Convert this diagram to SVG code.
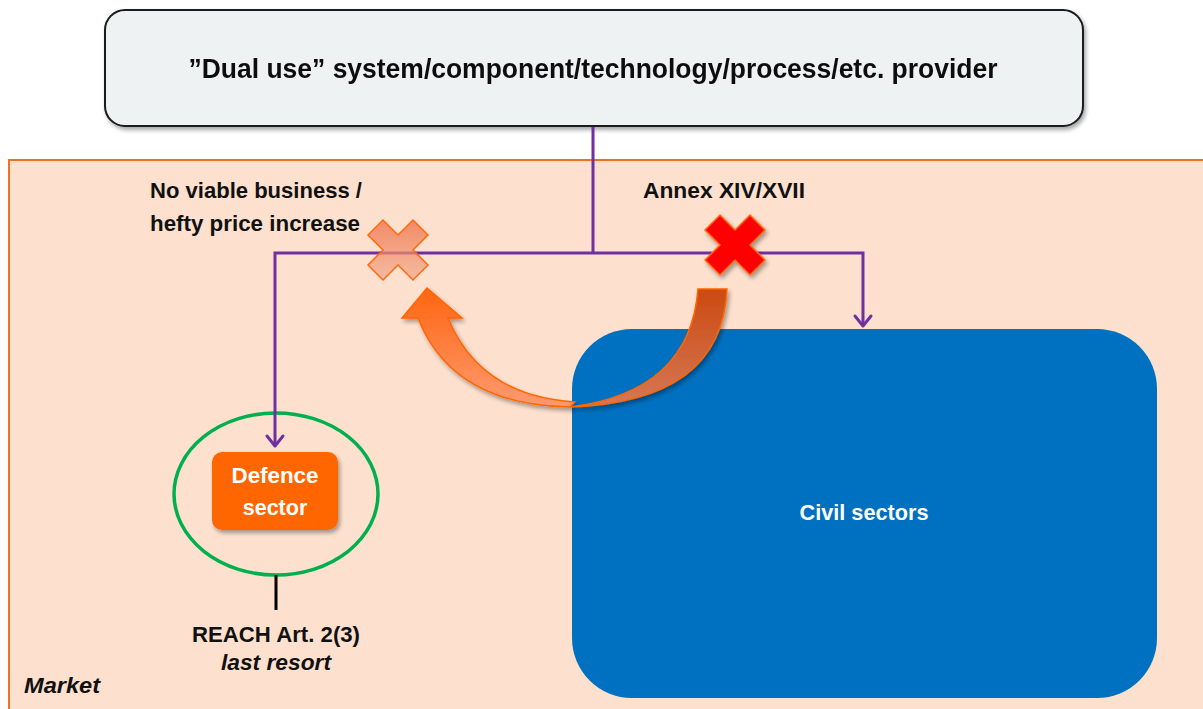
<svg xmlns="http://www.w3.org/2000/svg" width="1203" height="709" viewBox="0 0 1203 709">
  <defs>
    <style>
      .lbl { font-family: "Liberation Sans", Arial, sans-serif; font-weight: bold; font-size: 21.5px; fill: #111; }
      .white { fill: #fff; }
      .it { font-style: italic; }
      .conn { fill: none; stroke: #7030a0; stroke-width: 3; stroke-linejoin: miter; }
      .head { fill: none; stroke: #7030a0; stroke-width: 3; stroke-linecap: round; stroke-linejoin: round; }
    </style>
    <filter id="shadow" x="-10%" y="-10%" width="120%" height="130%">
      <feGaussianBlur in="SourceAlpha" stdDeviation="2"/>
      <feOffset dx="2" dy="3" result="b"/>
      <feComponentTransfer><feFuncA type="linear" slope="0.35"/></feComponentTransfer>
      <feMerge><feMergeNode/><feMergeNode in="SourceGraphic"/></feMerge>
    </filter>
    <linearGradient id="fadeX" x1="0" y1="0" x2="0" y2="1">
      <stop offset="0" stop-color="#f07a50" stop-opacity="0.85"/>
      <stop offset="1" stop-color="#f0a080" stop-opacity="0.6"/>
    </linearGradient>
    <linearGradient id="arrowFront" x1="0" y1="0" x2="0" y2="1">
      <stop offset="0" stop-color="#ff6510"/>
      <stop offset="1" stop-color="#ff9a70"/>
    </linearGradient>
    <linearGradient id="arrowBack" x1="0" y1="0" x2="0" y2="1">
      <stop offset="0" stop-color="#cc4a10"/>
      <stop offset="1" stop-color="#d57858"/>
    </linearGradient>
  </defs>

  <!-- market area -->
  <g id="market">
    <rect x="9" y="160" width="1210" height="560" fill="#fde0cd" stroke="#f5701c" stroke-width="2"/>
    <text class="lbl it" x="24" y="693" textLength="76" lengthAdjust="spacingAndGlyphs">Market</text>
  </g>

  <!-- provider -->
  <g id="provider" filter="url(#shadow)">
    <rect x="105" y="10" width="978" height="116" rx="20" fill="#eff2f3" stroke="#1a1a1a" stroke-width="2"/>
    <text class="lbl" x="593" y="78" text-anchor="middle" textLength="809" lengthAdjust="spacingAndGlyphs" style="font-size:27.5px">”Dual use” system/component/technology/process/etc. provider</text>
  </g>

  <!-- civil sectors -->
  <g id="civil">
    <rect x="572" y="329" width="585" height="369" rx="60" fill="#0070c0"/>
    <text class="lbl white" x="864" y="520" text-anchor="middle" textLength="129" lengthAdjust="spacingAndGlyphs">Civil sectors</text>
  </g>

  <!-- defence sector with last-resort circle -->
  <g id="defence">
    <ellipse cx="276" cy="494" rx="102" ry="81" fill="none" stroke="#00b050" stroke-width="3.5"/>
    <rect x="212" y="452" width="126" height="78" rx="10" fill="#ff6600" filter="url(#shadow)"/>
    <text class="lbl white" x="275" y="483" text-anchor="middle" textLength="87" lengthAdjust="spacingAndGlyphs">Defence</text>
    <text class="lbl white" x="275" y="515" text-anchor="middle">sector</text>
  </g>

  <g id="reach">
    <line x1="276" y1="575" x2="276" y2="610" stroke="#000" stroke-width="3"/>
    <text class="lbl" x="276" y="642" text-anchor="middle" textLength="168" lengthAdjust="spacingAndGlyphs">REACH Art. 2(3)</text>
    <text class="lbl it" x="276" y="670" text-anchor="middle" textLength="110" lengthAdjust="spacingAndGlyphs">last resort</text>
  </g>

  <!-- supply connectors -->
  <g id="connectors">
    <path class="conn" d="M593,127 V253 M275,445 V253 H863 V325"/>
    <path class="head" d="M267,436 L275,446 L283,436"/>
    <path class="head" d="M855,316 L863,326 L871,316"/>
  </g>

  <!-- blocked routes -->
  <g id="x-business">
    <polygon points="383,220 398,235 413,220 428,235 413,250 428,265 413,280 398,265 383,280 368,265 383,250 368,235" fill="url(#fadeX)" stroke="#ff6a10" stroke-width="1.5" stroke-linejoin="miter"/>
  </g>
  <g id="x-annex" filter="url(#shadow)">
    <polygon points="720,215 735,230 750,215 765,230 750,245 765,260 750,275 735,260 720,275 705,260 720,245 705,230" fill="#ff0000" stroke="#ff6a10" stroke-width="1.5"/>
  </g>

  <!-- shift of demand arrow -->
  <g id="shift-arrow" filter="url(#shadow)">
    <path d="M570,407 Q452,405 418,318 L402,318 L427,288 L462,318 L448,318 Q480,396 575,402 Z" fill="url(#arrowFront)" stroke="#ff6600" stroke-width="1.5" stroke-linejoin="miter"/>
    <path d="M698,289 L727,289 Q722,402 570,407 Q690,392 698,289 Z" fill="url(#arrowBack)" stroke="#ff6600" stroke-width="1.5"/>
  </g>

  <!-- labels -->
  <g id="labels">
    <text class="lbl" x="150" y="198" textLength="212" lengthAdjust="spacingAndGlyphs">No viable business /</text>
    <text class="lbl" x="150" y="231" textLength="210" lengthAdjust="spacingAndGlyphs">hefty price increase</text>
    <text class="lbl" x="643" y="198" textLength="162" lengthAdjust="spacingAndGlyphs">Annex XIV/XVII</text>
  </g>
</svg>
